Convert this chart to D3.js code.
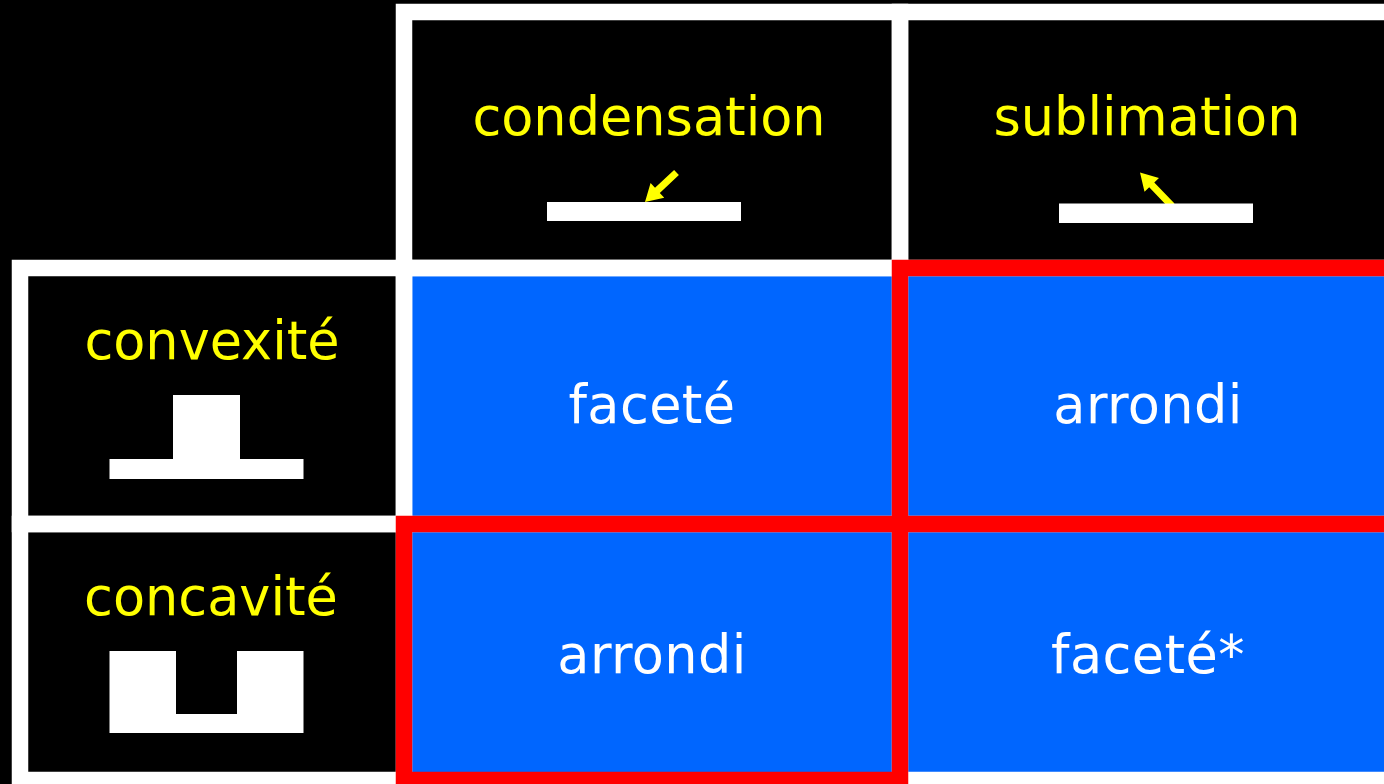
<!DOCTYPE html>
<html><head><meta charset="utf-8">
<script src="https://cdn.jsdelivr.net/npm/d3@7"></script>
<style>html,body{margin:0;padding:0;background:#000;overflow:hidden}svg{display:block}text{font-family:"DejaVu Sans",sans-serif;text-anchor:middle}</style>
</head><body><svg id="c" width="1384" height="784"></svg>
<script>
const columns = ["condensation", "sublimation"];
const rows = ["convexité", "concavité"];
const cellLabels = [["faceté", "arrondi"], ["arrondi", "faceté*"]];
const cellFrames = [["white", "red"], ["red", "white"]];

const W = 1384, H = 784, B = 16;
const BLUE = "#0066ff", YEL = "#ffff00";
const svg = d3.select("#c");
svg.append("rect").attr("width", W).attr("height", H).attr("fill", "#000");

const x = d3.scaleBand().domain(["", ...columns]).range([-100, 1388]);
const y = d3.scaleBand().domain(["", ...rows]).range([4, 772]);
const step = x.step();
const rowX = 12, rowW = 384;

const cells = [];
rows.forEach((r, i) => columns.forEach((c, j) => cells.push({r, c, label: cellLabels[i][j], frame: cellFrames[i][j]})));

// blue fill
svg.selectAll("rect.cell").data(cells).join("rect").attr("class", "cell")
  .attr("x", d => x(d.c) + B).attr("y", d => y(d.r) + B)
  .attr("width", step - B).attr("height", y.step() - B)
  .attr("fill", BLUE);

// frames: the slight over-width gives the soft edge seen on the reference's lines
const frame = (fx, fy, col) => svg.append("rect")
  .attr("x", fx + B / 2).attr("y", fy + B / 2).attr("width", fx === rowX ? rowW : step).attr("height", y.step())
  .attr("fill", "none").attr("stroke", col).attr("stroke-width", B + 0.5);

columns.forEach(c => frame(x(c), y(""), "#fff"));
rows.forEach(r => frame(rowX, y(r), "#fff"));
cells.filter(d => d.frame === "white").forEach(d => frame(x(d.c), y(d.r), "#fff"));
cells.filter(d => d.frame === "red").forEach(d => frame(x(d.c), y(d.r), "#ff0000"));

// column and row titles
const titleSize = 52.5, cellSize = 52.5;
svg.selectAll("text.col").data(columns).join("text").attr("class", "col")
  .attr("x", (d, i) => x(d) + step / 2 + 5 + i * 2).attr("y", y("") + 131)
  .attr("font-size", titleSize).attr("fill", YEL).text(d => d);
svg.selectAll("text.row").data(rows).join("text").attr("class", "row")
  .attr("x", (d, i) => 212 - i).attr("y", d => y(d) + 99)
  .attr("font-size", titleSize).attr("fill", YEL).text(d => d);
svg.selectAll("text.val").data(cells).join("text").attr("class", "val")
  .attr("x", d => x(d.c) + step / 2 + 8)
  .attr("y", d => y(d.r) + (d.r === rows[0] ? 163 : 157))
  .attr("font-size", cellSize).attr("letter-spacing", 0.4).attr("fill", "#fff").text(d => d.label);

// arrows
function arrow(x0, y0, x1, y1) {
  const a = Math.atan2(y1 - y0, x1 - x0), L = 17, W2 = 10, w = 3.5;
  const ux = Math.cos(a), uy = Math.sin(a), nx = -uy, ny = ux;
  const bx = x1 - ux * L, by = y1 - uy * L;
  const p = [[x0 + nx * w, y0 + ny * w], [bx + nx * w, by + ny * w], [bx + nx * W2, by + ny * W2], [x1, y1],
             [bx - nx * W2, by - ny * W2], [bx - nx * w, by - ny * w], [x0 - nx * w, y0 - ny * w]];
  svg.append("path").attr("d", d3.line()(p) + "Z").attr("fill", YEL);
}
arrow(1172, 206, 1140, 172.5);

// icons: white surface profiles
const icon = (pts) => svg.append("path").attr("d", d3.line()(pts)).attr("fill", "#fff");
const ox = rowX + 97.5, bw = 194;
icon([[x(columns[0]) + 151, 202], [x(columns[0]) + 151 + bw, 202], [x(columns[0]) + 151 + bw, 221], [x(columns[0]) + 151, 221]]);
icon([[x(columns[1]) + 167, 203.5], [x(columns[1]) + 167 + bw, 203.5], [x(columns[1]) + 167 + bw, 223], [x(columns[1]) + 167, 223]]);
const ry0 = y(rows[0]), ry1 = y(rows[1]);
icon([[ox, ry0 + 199], [ox + 63.5, ry0 + 199], [ox + 63.5, ry0 + 135], [ox + 130.5, ry0 + 135], [ox + 130.5, ry0 + 199], [ox + bw, ry0 + 199], [ox + bw, ry0 + 219], [ox, ry0 + 219]]);
icon([[ox, ry1 + 135], [ox + 66.5, ry1 + 135], [ox + 66.5, ry1 + 198], [ox + 127.5, ry1 + 198], [ox + 127.5, ry1 + 135], [ox + bw, ry1 + 135], [ox + bw, ry1 + 217], [ox, ry1 + 217]]);

arrow(676.5, 172.5, 645, 202);
</script></body></html>
